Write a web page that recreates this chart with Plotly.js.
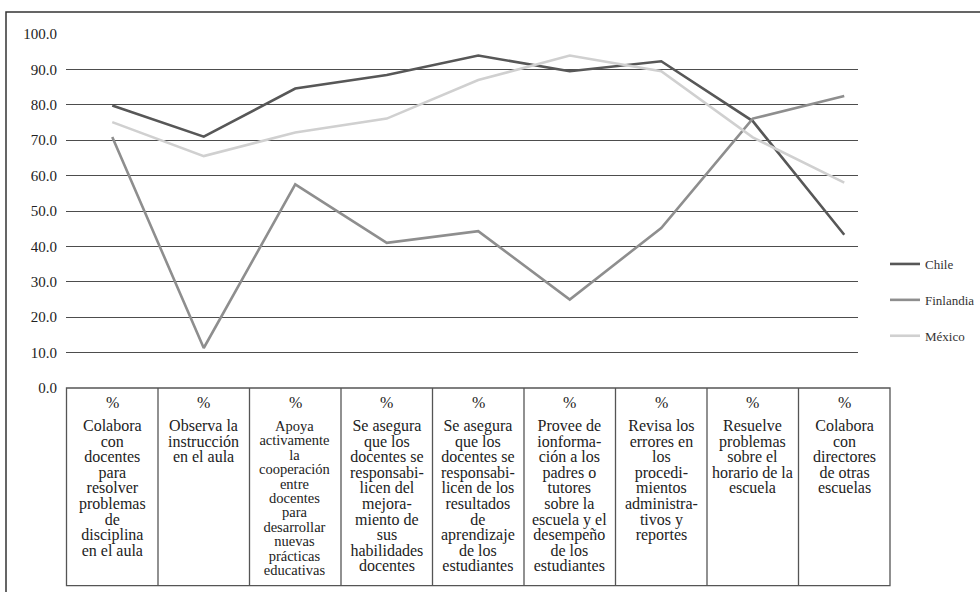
<!DOCTYPE html>
<html>
<head>
<meta charset="utf-8">
<script src="https://cdn.plot.ly/plotly-3.0.1.min.js"></script>
<style>
  html, body { margin: 0; padding: 0; background: #ffffff; }
  #chart { width: 980px; height: 592px; }
</style>
</head>
<body>
<div id="chart"></div>
<script>
// Category labels (line breaks as in the printed table)
const categories = [
  "Colabora<br>con<br>docentes<br>para<br>resolver<br>problemas<br>de<br>disciplina<br>en el aula",
  "Observa la<br>instrucción<br>en el aula",
  "Apoya<br>activamente<br>la<br>cooperación<br>entre<br>docentes<br>para<br>desarrollar<br>nuevas<br>prácticas<br>educativas",
  "Se asegura<br>que los<br>docentes se<br>responsabi-<br>licen del<br>mejora-<br>miento de<br>sus<br>habilidades<br>docentes",
  "Se asegura<br>que los<br>docentes se<br>responsabi-<br>licen de los<br>resultados<br>de<br>aprendizaje<br>de los<br>estudiantes",
  "Provee de<br>ionforma-<br>ción a los<br>padres o<br>tutores<br>sobre la<br>escuela y el<br>desempeño<br>de los<br>estudiantes",
  "Revisa los<br>errores en<br>los<br>procedi-<br>mientos<br>administra-<br>tivos y<br>reportes",
  "Resuelve<br>problemas<br>sobre el<br>horario de la<br>escuela",
  "Colabora<br>con<br>directores<br>de otras<br>escuelas"
];
const unitLabel = "%";

// Percentages per country
const chile     = [79.8, 71.0, 84.6, 88.4, 93.9, 89.5, 92.3, 75.4, 43.3];
const finlandia = [70.9, 11.3, 57.5, 41.0, 44.3, 25.0, 45.2, 76.1, 82.5];
const mexico    = [75.1, 65.5, 72.2, 76.1, 87.0, 93.9, 89.5, 70.8, 58.0];

const seriesNames = ["Chile", "Finlandia", "México"];
const yTickValues = [0, 10, 20, 30, 40, 50, 60, 70, 80, 90, 100];

// ---- geometry ----
const W = 980, H = 592;
const M = { l: 66, r: 122, t: 34, b: 204, autoexpand: false };
const plotW = W - M.l - M.r;
const plotH = H - M.t - M.b;
const colW = 91.5;            // width of one table column, px
const tableLeftPx = 66.5;     // left edge of the table, px
const tableBottomPx = 585.7;
const xr0 = -0.5 - (tableLeftPx - M.l) / colW;
const xr1 = xr0 + plotW / colW;

const v2paperX = v => (v - xr0) / (xr1 - xr0);
const px2paperX = px => (px - M.l) / plotW;
const py2paperY = py => (M.t + plotH - py) / plotH;

const serif = "'Liberation Serif', 'Times New Roman', Times, serif";
const textColor = "#222222";
const colors = ["#575757", "#8e8e8e", "#d0d0d0"];
const cellFont = 16;

const traces = [chile, finlandia, mexico].map((vals, k) => ({
  type: "scatter",
  mode: "lines",
  name: seriesNames[k],
  legendgroup: "g" + k,
  x: categories,
  y: vals,
  line: { color: colors[k], width: 2.6 },
  hoverinfo: "x+y+name"
}));

// ---- table under the plot: frame and column separators ----
const tableColor = "#555555";
const shapes = [];
// frame around the whole figure
shapes.push({
  type: "rect", xref: "paper", yref: "paper",
  x0: px2paperX(6), x1: px2paperX(984),
  y0: py2paperY(596), y1: py2paperY(12),
  line: { color: "#333333", width: 1.5 }, fillcolor: "rgba(0,0,0,0)", layer: "below"
});
shapes.push({
  type: "rect", xref: "paper", yref: "paper",
  x0: v2paperX(-0.5), x1: v2paperX(categories.length - 0.5),
  y0: py2paperY(tableBottomPx), y1: 0,
  line: { color: tableColor, width: 1.3 }, fillcolor: "rgba(0,0,0,0)"
});
for (let i = 0; i < categories.length - 1; i++) {
  shapes.push({
    type: "line", xref: "paper", yref: "paper",
    x0: v2paperX(i + 0.5), x1: v2paperX(i + 0.5),
    y0: py2paperY(tableBottomPx), y1: 0,
    line: { color: tableColor, width: 1.3 }
  });
}

// ---- cell text: a "%" heading plus the wrapped description ----
const annotations = [];
const linePitch = {};   // annotation index -> line pitch in px
categories.forEach((label, i) => {
  annotations.push({
    xref: "x", yref: "paper", x: i, y: py2paperY(403),
    xanchor: "center", yanchor: "middle", showarrow: false,
    text: unitLabel, font: { family: serif, size: cellFont, color: textColor }
  });
  const nLines = label.split("<br>").length;
  const dense = nLines > 10;          // the longest description is set tighter
  linePitch[annotations.length] = dense ? 14.4 : 15.6;
  annotations.push({
    xref: "x", yref: "paper", x: i, y: py2paperY(dense ? 416.2 : 415.2),
    xanchor: "center", yanchor: "top", align: "center", showarrow: false,
    text: label, font: { family: serif, size: dense ? 14.5 : cellFont, color: textColor }
  });
});

const layout = {
  width: W, height: H,
  margin: M,
  paper_bgcolor: "#ffffff",
  plot_bgcolor: "rgba(0,0,0,0)",
  showlegend: true,
  legend: {
    x: px2paperX(885), xanchor: "left",
    y: py2paperY(249), yanchor: "top",
    traceorder: "grouped",
    tracegroupgap: 16,
    bgcolor: "rgba(0,0,0,0)",
    font: { family: serif, size: 13, color: "#333333" }
  },
  xaxis: {
    type: "category",
    range: [xr0, xr1],
    showticklabels: false,
    showgrid: false,
    zeroline: false,
    showline: false,
    ticks: "",
    fixedrange: true
  },
  yaxis: {
    range: [0, 100],
    tickvals: yTickValues,
    tickformat: ".1f",
    showgrid: true,
    gridcolor: "#4d4d4d",
    gridwidth: 1,
    zeroline: false,
    showline: false,
    ticks: "",
    ticklabelstandoff: 8,
    tickfont: { family: serif, size: 15, color: textColor },
    fixedrange: true
  },
  shapes: shapes,
  annotations: annotations
};

Plotly.newPlot("chart", traces, layout, { displayModeBar: false, staticPlot: true })
  .then(gd => {
    // tighten the line spacing of the wrapped cell descriptions
    gd.querySelectorAll("g.annotation").forEach(g => {
      const p = linePitch[+g.getAttribute("data-index")];
      if (!p) return;
      g.querySelectorAll("tspan.line").forEach((ts, k) => {
        ts.setAttribute("dy", (k * p) + "px");
      });
    });
  });
</script>
</body>
</html>
